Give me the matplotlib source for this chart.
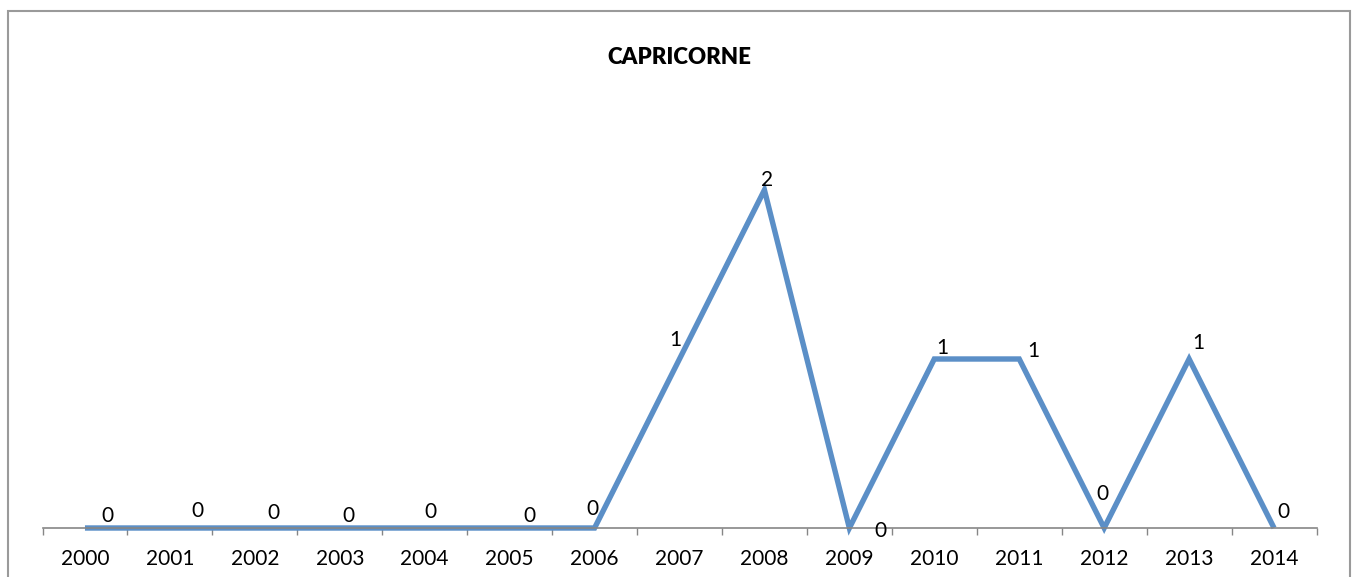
import matplotlib.pyplot as plt
from matplotlib.patches import Rectangle

# data
years = ["2000", "2001", "2002", "2003", "2004", "2005", "2006", "2007",
         "2008", "2009", "2010", "2011", "2012", "2013", "2014"]
counts = [0, 0, 0, 0, 0, 0, 0, 1, 2, 0, 1, 1, 0, 1, 0]

# where Excel put each data label, in pixels from its point
label_offsets = [(22, 12), (28, 17), (19, 15), (9, 12), (6, 16), (20, 12), (-2, 19),
                 (-4, 19), (3, 10), (31, -3), (8, 11), (14, 8), (-2, 34), (9, 16), (9, 16)]

plt.rcParams['font.family'] = ['Lato', 'DejaVu Sans']

fig = plt.figure(figsize=(13.6, 5.77), dpi=100)
ax = fig.add_axes([42.5 / 1360, 49 / 577, 1274 / 1360, 422.5 / 577])

x = list(range(len(years)))
ax.plot(x, counts, color="#5B8FC7", linewidth=3.9, solid_joinstyle="miter",
        solid_capstyle="butt", clip_on=False)

for i, v in enumerate(counts):
    ax.annotate(str(v), (i, v), xytext=label_offsets[i], textcoords="offset pixels",
                ha="center", va="center", fontsize=15, color="black")

ax.set_xlim(-0.5, len(years) - 0.5)
ax.set_ylim(0, 2.5)
ax.set_xticks(x)
ax.set_xticklabels(years, fontsize=15)
ax.set_xticks([i - 0.5 for i in range(len(years) + 1)], minor=True)
ax.tick_params(axis="x", which="major", length=0, pad=15)
ax.tick_params(axis="x", which="minor", length=5, width=1, color="#868686")
ax.set_yticks([])

for s in ["top", "left", "right"]:
    ax.spines[s].set_visible(False)
ax.spines["bottom"].set_color("#868686")
ax.spines["bottom"].set_linewidth(1.2)
ax.set_zorder(2)

fig.text(679 / 1360, 1 - 57 / 577, "CAPRICORNE", ha="center", va="center",
         fontsize=16, fontweight="heavy")

# chart frame
fig.add_artist(Rectangle((8 / 1360, -0.1), 1342 / 1360, 1.1 - 11 / 577,
                         transform=fig.transFigure, fill=False,
                         edgecolor="#9A9A9A", linewidth=1.5))

fig.savefig("out.png", dpi=100)
